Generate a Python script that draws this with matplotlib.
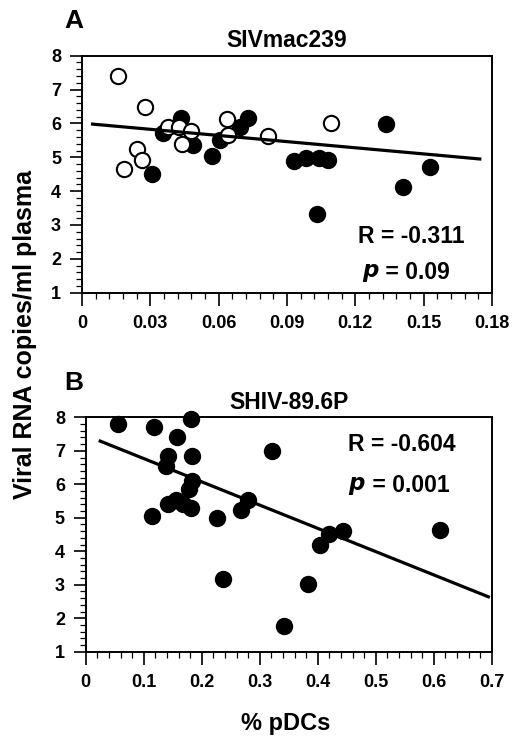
import numpy as np
import matplotlib.pyplot as plt
from matplotlib.ticker import MultipleLocator

plt.rcParams["font.family"] = ["Liberation Sans", "DejaVu Sans"]
plt.rcParams["font.weight"] = "bold"

# --- Panel A: SIVmac239 ---
a_open_x = [0.0158, 0.0279, 0.0186, 0.0244, 0.0262, 0.0376, 0.0425, 0.0440,
            0.0481, 0.0635, 0.0642, 0.0817, 0.1095]
a_open_y = [7.41, 6.48, 4.64, 5.23, 4.91, 5.89, 5.90, 5.39,
            5.77, 6.13, 5.67, 5.62, 6.01]
a_fill_x = [0.0306, 0.0357, 0.0433, 0.0488, 0.0572, 0.0605, 0.0693, 0.0730,
            0.0931, 0.0985, 0.1041, 0.1081, 0.1032, 0.1334, 0.1410, 0.1529]
a_fill_y = [4.52, 5.72, 6.16, 5.37, 5.03, 5.52, 5.90, 6.16,
            4.88, 4.98, 4.98, 4.91, 3.32, 5.98, 4.12, 4.71]
a_fit_x = [0.0047, 0.1746]
a_fit_y = [5.98, 4.95]

# --- Panel B: SHIV-89.6P ---
b_x = [0.055, 0.118, 0.181, 0.158, 0.141, 0.139, 0.184, 0.184, 0.178,
       0.141, 0.155, 0.168, 0.181, 0.115, 0.227, 0.237, 0.280, 0.268,
       0.321, 0.383, 0.341, 0.404, 0.419, 0.443, 0.611]
b_y = [7.80, 7.70, 7.95, 7.40, 6.84, 6.55, 6.84, 6.11, 5.85,
       5.40, 5.53, 5.40, 5.30, 5.05, 4.98, 3.18, 5.53, 5.23,
       6.98, 3.02, 1.78, 4.19, 4.51, 4.60, 4.63]
b_fit_x = [0.025, 0.694]
b_fit_y = [7.29, 2.64]

fig = plt.figure(figsize=(5.18, 7.41), dpi=100)
ax1 = fig.add_axes([0.158, 0.605, 0.792, 0.3198])
ax2 = fig.add_axes([0.1655, 0.1205, 0.784, 0.3163])

ms = 11
for ax in (ax1, ax2):
    for side in ax.spines.values():
        side.set_linewidth(1.4)
    ax.tick_params(which="major", direction="out", length=9, width=1.2,
                   labelsize=13, top=False, right=False)
    ax.tick_params(axis="x", which="major", pad=7)
    ax.tick_params(axis="y", which="major", pad=6)
    ax.tick_params(which="minor", direction="out", length=4.5, width=0.9,
                   top=False, right=False)
    ax.set_ylim(1, 8)
    ax.set_yticks(range(1, 9))
    ax.yaxis.set_minor_locator(MultipleLocator(0.2))
    for lab in ax.get_xticklabels() + ax.get_yticklabels():
        lab.set_fontweight("bold")

# panel A
ax1.plot(a_fill_x, a_fill_y, "o", ms=ms, mfc="black", mec="black", mew=1.5,
         clip_on=False, zorder=3)
ax1.plot(a_open_x, a_open_y, "o", ms=ms, mfc="white", mec="black", mew=1.5,
         clip_on=False, zorder=3)
ax1.plot(a_fit_x, a_fit_y, color="black", lw=2.3, zorder=4)
ax1.set_xlim(0, 0.18)
ax1.set_xticks(np.arange(0, 0.181, 0.03))
ax1.set_xticklabels(["0", "0.03", "0.06", "0.09", "0.12", "0.15", "0.18"],
                    fontweight="bold")
ax1.xaxis.set_minor_locator(MultipleLocator(0.006))
ax1.set_title("SIVmac239", fontsize=16.5, fontweight="bold", pad=6)
ax1.text(0.1445, 2.65, "R = -0.311", fontsize=16.5, fontweight="bold",
         ha="center", va="center")
ax1.text(0.1305, 1.6, "$\\boldsymbol{p}$", fontsize=16.5, ha="right", va="center")
ax1.text(0.1305, 1.6, " = 0.09", fontsize=16.5, fontweight="bold",
         ha="left", va="center")

# panel B
ax2.plot(b_x, b_y, "o", ms=ms, mfc="black", mec="black", mew=1.5,
         clip_on=False, zorder=3)
ax2.plot(b_fit_x, b_fit_y, color="black", lw=2.3, zorder=4)
ax2.set_xlim(0, 0.7)
ax2.set_xticks(np.arange(0, 0.71, 0.1))
ax2.set_xticklabels(["0", "0.1", "0.2", "0.3", "0.4", "0.5", "0.6", "0.7"],
                    fontweight="bold")
ax2.xaxis.set_minor_locator(MultipleLocator(0.02))
ax2.set_title("SHIV-89.6P", fontsize=16.5, fontweight="bold", pad=6)
ax2.text(0.545, 7.2, "R = -0.604", fontsize=16.5, fontweight="bold",
         ha="center", va="center")
ax2.text(0.483, 5.95, "$\\boldsymbol{p}$", fontsize=16.5, ha="right", va="center")
ax2.text(0.483, 5.95, " = 0.001", fontsize=16.5, fontweight="bold",
         ha="left", va="center")

fig.text(0.125, 0.971, "A", fontsize=19, fontweight="bold", ha="left", va="center")
fig.text(0.125, 0.483, "B", fontsize=19, fontweight="bold", ha="left", va="center")
fig.text(0.048, 0.549, "Viral RNA copies/ml plasma", fontsize=18, fontweight="bold",
         rotation=90, ha="center", va="center")
fig.text(0.552, 0.024, "% pDCs", fontsize=17, fontweight="bold",
         ha="center", va="center")

fig.savefig("out.png", dpi=100)
